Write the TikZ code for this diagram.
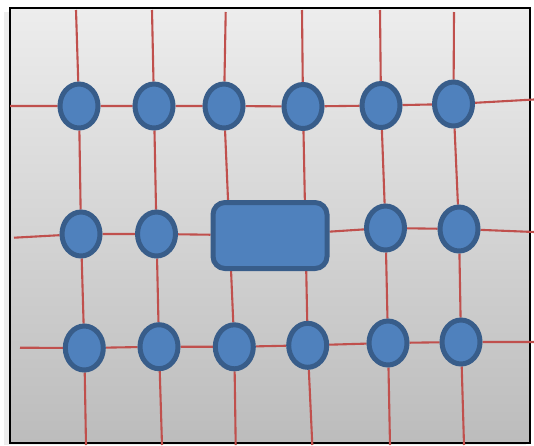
\documentclass[tikz,border=0pt]{standalone}
\usepackage{xcolor}
\usepackage{tikz}
\usetikzlibrary{shapes.geometric}
\definecolor{NodeBlue}{HTML}{4F81BD}
\definecolor{EdgeBlue}{HTML}{385D8A}
\definecolor{GridRed}{HTML}{C0504D}
\definecolor{PanelTop}{HTML}{EDEDED}
\definecolor{PanelBot}{HTML}{BCBCBC}
\pgfdeclarelayer{panel}
\pgfdeclarelayer{grid}
\pgfsetlayers{panel,grid,main}
\tikzset{
  % Base ellipse
  EL/.style={ellipse,minimum width=38pt,minimum height=44pt,inner sep=0pt,
             fill=NodeBlue,draw=EdgeBlue,line width=5pt},
  % Centre box
  BX/.style={rectangle,rounded corners=12pt,
             minimum width=114pt,minimum height=66pt,inner sep=0pt,
             fill=NodeBlue,draw=EdgeBlue,line width=5pt},
  % Grid line
  ln/.style={draw=GridRed,line width=2.1pt}
}

\begin{document}
\begin{tikzpicture}[x=1pt,y=-1pt]
  \useasboundingbox (0,0) rectangle (534,445);

  % panel
  \begin{pgfonlayer}{panel}
    \fill[black!7] (4,12) rectangle (526,445);
    \shade[top color=PanelTop,bottom color=PanelBot] (10,8) rectangle (530,443);
    \draw[line width=2.5pt] (10,8) rectangle (530,443);
  \end{pgfonlayer}

  % row 1
  \node[EL] (n11) at (79,106)    {};
  \node[EL] (n12) at (154,106)   {};
  \node[EL] (n13) at (224,106)   {};
  \node[EL] (n14) at (303,106.5) {};
  \node[EL] (n15) at (381,105.5) {};
  \node[EL] (n16) at (453.5,104) {};
  % row 2
  \node[EL] (n21) at (81,234)    {};
  \node[EL] (n22) at (156.5,234) {};
  \node[BX] (box) at (270,235.5) {};
  \node[EL] (n25) at (385.5,228) {};
  \node[EL] (n26) at (459,229)   {};
  % row 3
  \node[EL] (n31) at (84.3,348)  {};
  \node[EL] (n32) at (159,346.7) {};
  \node[EL] (n33) at (234.3,346.8) {};
  \node[EL] (n34) at (307.7,345.3) {};
  \node[EL] (n35) at (388,343)   {};
  \node[EL] (n36) at (461,342)   {};

  % free ends
  \coordinate (l1) at (10,106);   \coordinate (r1) at (534,99.5);
  \coordinate (l2) at (14,237.7); \coordinate (r2) at (534,232);
  \coordinate (l3) at (20,347.7); \coordinate (r3) at (534,342);
  \coordinate (t1) at (76,10);    \coordinate (b1) at (86,445);
  \coordinate (t2) at (152,10);   \coordinate (b2) at (162,445);
  \coordinate (t3) at (225.7,12); \coordinate (b3) at (235.7,445);
  \coordinate (t4) at (302,10);   \coordinate (b4) at (312.3,445);
  \coordinate (t5) at (380,10);   \coordinate (b5) at (390,445);
  \coordinate (t6) at (454,12);   \coordinate (b6) at (464,445);

  \begin{pgfonlayer}{grid}
    \draw[ln](l1)--(n11)--(n12)--(n13)--(n14)--(n15)--(n16)--(r1);
    \draw[ln](l2)--(n21)--(n22)--(box)--(n25)--(n26)--(r2);
    \draw[ln](l3)--(n31)--(n32)--(n33)--(n34)--(n35)--(n36)--(r3);
    \draw[ln](t1)--(n11)--(n21)--(n31)--(b1);
    \draw[ln](t2)--(n12)--(n22)--(n32)--(b2);
    \draw[ln](t3)--(n13)--(n33)--(b3);
    \draw[ln](t4)--(n14)--(n34)--(b4);
    \draw[ln](t5)--(n15)--(n25)--(n35)--(b5);
    \draw[ln](t6)--(n16)--(n26)--(n36)--(b6);
  \end{pgfonlayer}
\end{tikzpicture}
\end{document}
